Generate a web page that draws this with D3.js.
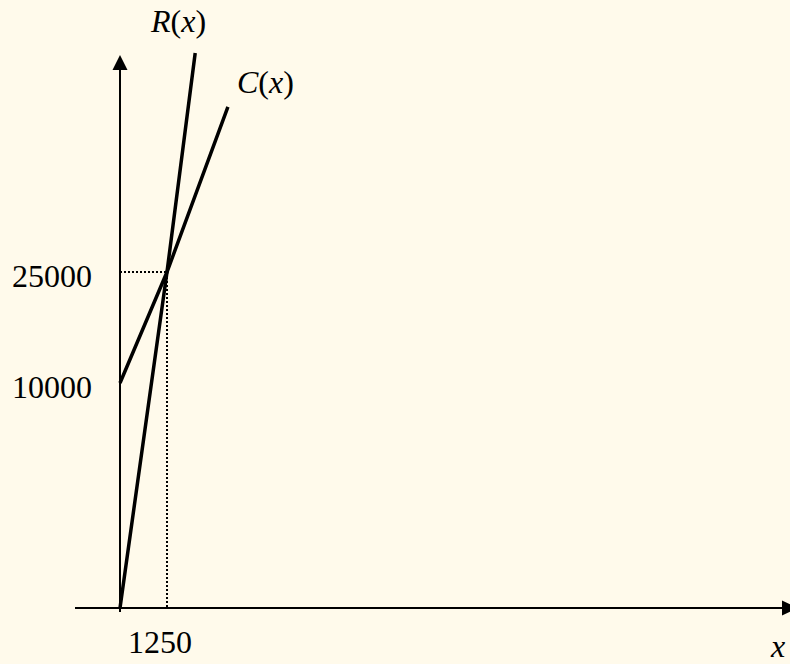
<!DOCTYPE html>
<html>
<head>
<meta charset="utf-8">
<script src="https://cdn.jsdelivr.net/npm/d3@7"></script>
<style>
  body { margin: 0; background: #fffaeb; }
  svg { display: block; }
  text { font-family: "Liberation Serif", "Times New Roman", serif; font-size: 32px; fill: #000; }
</style>
</head>
<body>
<div class="chart"></div>
<script>
let width = 790, height = 664;

// break-even sketch (not drawn to scale, so scales are piecewise)
let xTicks = [1250];
let yTicks = [10000, 25000];
let revenue = [{x: 0, y: 0}, {x: 1250, y: 25000}, {x: 2000, y: 54600}];
let cost = [{x: 0, y: 10000}, {x: 1250, y: 25000}, {x: 2870, y: 47300}];
let breakEven = {x: 1250, y: 25000};

let xScale = d3.scaleLinear().domain([0, 1250]).range([120, 167]);
let yScale = d3.scaleLinear().domain([0, 10000, 25000]).range([608, 383, 272]);

const svg = d3.select(".chart")
  .append("svg")
  .attr("width", width)
  .attr("height", height);

svg.append("rect").attr("width", width).attr("height", height).attr("fill", "#fffaeb");

// axes
svg.append("line")
  .attr("x1", 75).attr("x2", 784)
  .attr("y1", yScale(0)).attr("y2", yScale(0))
  .attr("stroke", "#000").attr("stroke-width", 2);
svg.append("path")
  .attr("d", "M782," + (yScale(0) - 7.5) + "L798," + yScale(0) + "L782," + (yScale(0) + 7.5) + "Z")
  .attr("fill", "#000");

svg.append("line")
  .attr("x1", xScale(0)).attr("x2", xScale(0))
  .attr("y1", 612).attr("y2", 68)
  .attr("stroke", "#000").attr("stroke-width", 2);
svg.append("path")
  .attr("d", "M" + (xScale(0) - 7.5) + ",70L" + xScale(0) + ",55L" + (xScale(0) + 7.5) + ",70Z")
  .attr("fill", "#000");

// dotted guides to break-even point
svg.append("path")
  .attr("d", "M" + xScale(0) + "," + yScale(breakEven.y) + "H" + xScale(breakEven.x) + "V" + yScale(0))
  .attr("fill", "none")
  .attr("stroke", "#000")
  .attr("stroke-width", 2)
  .attr("stroke-dasharray", "2,2");

let line = d3.line().x(d => xScale(d.x)).y(d => yScale(d.y));

svg.append("path").datum(revenue)
  .attr("d", line)
  .attr("fill", "none").attr("stroke", "#000").attr("stroke-width", 3.5);
svg.append("path").datum(cost)
  .attr("d", line)
  .attr("fill", "none").attr("stroke", "#000").attr("stroke-width", 3.5);

// tick labels
svg.selectAll(".ylab")
  .data(yTicks)
  .enter()
  .append("text")
  .attr("class", "ylab")
  .attr("x", 92)
  .attr("y", d => yScale(d) + 15)
  .attr("text-anchor", "end")
  .text(d => d);

svg.selectAll(".xlab")
  .data(xTicks)
  .enter()
  .append("text")
  .attr("class", "xlab")
  .attr("x", d => xScale(d) - 7)
  .attr("y", 653)
  .attr("text-anchor", "middle")
  .text(d => d);

// function labels: italic letters, upright parens
function fnLabel(x, y, name) {
  let t = svg.append("text").attr("x", x).attr("y", y);
  t.append("tspan").attr("font-style", "italic").text(name);
  t.append("tspan").text("(");
  t.append("tspan").attr("font-style", "italic").text("x");
  t.append("tspan").text(")");
}
fnLabel(151, 32, "R");
fnLabel(237, 93, "C");

svg.append("text")
  .attr("x", 771).attr("y", 657)
  .attr("font-style", "italic")
  .text("x");
</script>
</body>
</html>
